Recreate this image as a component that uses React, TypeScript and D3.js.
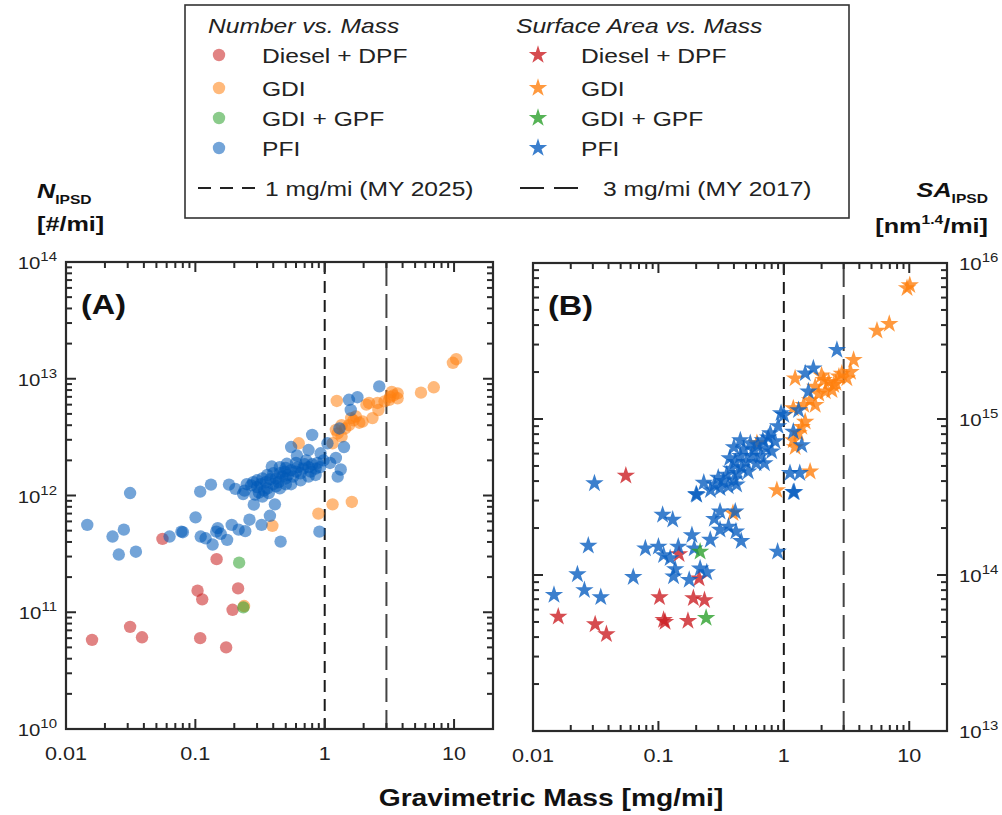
import React from "react";
import * as d3 from "d3";

type Pt = [number, number];

// ---------- Panel A: Number vs. Mass ----------
const dieselNumber: Pt[] = [
  [0.0557, 4.25e11], [0.146, 2.85e11], [0.104, 1.53e11], [0.113, 1.29e11], [0.214, 1.6e11],
  [0.194, 1.05e11], [0.0159, 5.8e10], [0.0313, 7.5e10], [0.0387, 6.1e10], [0.109, 6.0e10], [0.173, 5.0e10],
];
const gdiNumber: Pt[] = [
  [0.238, 1.13e11], [0.394, 5.5e11], [0.893, 7.0e11], [1.15, 8.4e11], [1.62, 8.8e11],
  [0.63, 2.8e12], [1.15, 2.8e12], [1.22, 3.65e12], [1.26, 3.4e12], [1.44, 3.75e12], [1.54, 4.0e12],
  [1.67, 4.4e12], [1.74, 4.75e12], [1.96, 4.3e12], [2.34, 4.6e12], [2.6, 5.4e12], [1.24, 6.45e12],
  [2.2, 6.2e12], [2.56, 6.2e12], [3.15, 6.6e12], [3.3, 7.7e12], [3.66, 7.5e12], [3.66, 6.8e12],
  [3.2, 7.0e12], [2.9, 6.4e12], [5.55, 7.6e12], [6.97, 8.45e12], [9.8, 1.37e13], [10.4, 1.47e13],
  [1.85, 4.2e12], [1.6, 4.6e12], [2.1, 6.0e12], [1.35, 3.2e12], [1.35, 4.0e12], [3.4, 7.2e12],
];
const gpfNumber: Pt[] = [[0.218, 2.66e11], [0.235, 1.1e11]];
const pfiNumber: Pt[] = [
  [0.0313, 1.05e12], [0.0146, 5.6e11], [0.0229, 4.45e11], [0.028, 5.1e11], [0.0256, 3.12e11],
  [0.0347, 3.3e11], [0.0632, 4.45e11], [0.08, 4.85e11], [0.078, 4.9e11], [0.1004, 6.5e11],
  [0.109, 1.08e12], [0.132, 1.24e12], [0.182, 1.24e12], [0.204, 1.14e12], [0.234, 1.03e12],
  [0.11, 4.45e11], [0.12, 4.3e11], [0.136, 3.8e11], [0.149, 5.25e11], [0.157, 4.7e11], [0.145, 4.9e11],
  [0.176, 4.17e11], [0.191, 5.6e11], [0.216, 5.1e11], [0.243, 4.95e11], [0.262, 6.2e11], [0.283, 8.35e11],
  [0.325, 5.6e11], [0.377, 6.7e11], [0.412, 8.4e11], [0.456, 4.03e11], [0.91, 4.9e11],
  [0.27, 1.22e12], [0.28, 1.3e12], [0.3, 1.18e12], [0.3, 1.35e12], [0.32, 1.25e12], [0.33, 1.4e12],
  [0.35, 1.3e12], [0.36, 1.15e12], [0.36, 1.5e12], [0.38, 1.38e12], [0.4, 1.25e12], [0.4, 1.55e12],
  [0.42, 1.4e12], [0.44, 1.3e12], [0.45, 1.55e12], [0.47, 1.45e12], [0.49, 1.6e12], [0.5, 1.4e12],
  [0.52, 1.5e12], [0.55, 1.65e12], [0.57, 1.45e12], [0.6, 1.6e12], [0.62, 1.75e12], [0.65, 1.55e12],
  [0.68, 1.7e12], [0.7, 1.85e12], [0.75, 1.75e12], [0.78, 1.6e12], [0.8, 1.85e12], [0.85, 1.7e12],
  [0.88, 1.9e12], [0.92, 1.75e12], [0.34, 1.1e12], [0.39, 1.77e12], [0.51, 1.87e12], [0.29, 1.02e12],
  [0.33, 0.98e12], [0.37, 1.05e12], [0.25, 1.25e12], [0.24, 1.1e12],
  [0.31, 1.06e12], [0.45, 1.15e12], [0.55, 1.25e12], [0.65, 1.35e12], [0.75, 1.45e12], [0.85, 1.5e12],
  [0.45, 1.75e12], [0.5, 1.72e12], [0.6, 1.9e12], [0.72, 2.0e12], [0.42, 1.2e12], [0.5, 1.25e12],
  [0.55, 2.6e12], [0.61, 2.2e12], [0.75, 2.45e12], [0.93, 2.3e12], [1.05, 2.8e12], [1.22, 2.1e12],
  [1.41, 2.6e12], [1.33, 1.67e12], [1.26, 1.45e12], [0.8, 3.3e12], [1.3, 3.75e12], [1.59, 5.4e12],
  [1.54, 6.6e12], [1.79, 6.95e12], [2.64, 8.6e12], [1.1, 1.9e12], [0.98, 2.0e12],
];

// ---------- Panel B: Surface Area vs. Mass ----------
const dieselSA: Pt[] = [
  [0.0159, 5.4e13], [0.0313, 4.83e13], [0.0385, 4.17e13], [0.102, 7.2e13], [0.11, 5.15e13],
  [0.113, 5.0e13], [0.172, 5.08e13], [0.19, 7.1e13], [0.233, 6.9e13], [0.211, 9.5e13],
  [0.146, 1.36e14], [0.055, 4.33e14],
];
const gdiSA: Pt[] = [
  [0.393, 2.49e14], [0.88, 3.5e14], [1.62, 4.6e14], [0.61, 7.0e14], [1.23, 6.6e14], [1.19, 7.3e14],
  [1.31, 8.1e14], [1.39, 8.9e14], [1.48, 9.6e14], [1.19, 1.17e15], [1.44, 1.23e15], [1.78, 1.23e15],
  [1.62, 1.32e15], [2.14, 1.5e15], [2.42, 1.53e15], [1.78, 1.61e15], [2.5, 1.65e15], [2.28, 1.73e15],
  [2.08, 1.78e15], [2.75, 1.87e15], [3.18, 1.82e15], [1.23, 1.82e15], [3.4, 2.0e15], [3.6, 2.39e15],
  [2.9, 1.95e15], [2.0, 1.9e15], [5.53, 3.68e15], [6.93, 4.07e15], [9.6, 6.9e15], [10.1, 7.2e15],
  [1.9, 1.45e15], [2.6, 1.7e15],
];
const gpfSA: Pt[] = [[0.215, 1.41e14], [0.24, 5.3e13]];
const pfiSA: Pt[] = [
  [0.0147, 7.45e13], [0.0226, 1.01e14], [0.0257, 8.0e13], [0.0347, 7.2e13], [0.0276, 1.54e14],
  [0.063, 9.7e13], [0.0787, 1.48e14], [0.1, 1.52e14], [0.108, 2.43e14], [0.13, 2.26e14],
  [0.11, 1.34e14], [0.124, 1.28e14], [0.144, 1.52e14], [0.136, 1.09e14], [0.132, 9.8e13],
  [0.176, 9.3e13], [0.185, 1.8e14], [0.193, 1.48e14], [0.215, 1.1e14], [0.243, 1.04e14],
  [0.202, 3.26e14], [0.259, 1.68e14], [0.279, 2.29e14], [0.31, 2.55e14], [0.31, 1.95e14],
  [0.362, 2.04e14], [0.41, 2.55e14], [0.415, 1.9e14], [0.457, 1.65e14], [0.892, 1.41e14],
  [1.21, 3.39e14], [0.0309, 3.87e14],
  [2.65, 2.77e15], [1.72, 2.11e15], [1.48, 1.96e15], [1.57, 1.5e15], [1.0, 1.06e15], [1.31, 1.14e15],
  [1.19, 8.3e14], [1.39, 6.8e14], [1.12, 4.5e14], [1.34, 4.5e14], [1.19, 3.4e14],
  [0.2, 3.3e14], [0.23, 3.9e14], [0.26, 3.5e14], [0.28, 3.8e14], [0.3, 4.2e14], [0.31, 3.6e14],
  [0.33, 4.0e14], [0.35, 4.4e14], [0.36, 3.7e14], [0.38, 4.8e14], [0.4, 4.1e14], [0.41, 5.3e14],
  [0.43, 4.5e14], [0.45, 5.8e14], [0.46, 4.9e14], [0.48, 6.4e14], [0.5, 5.3e14], [0.52, 4.6e14],
  [0.54, 7.0e14], [0.55, 5.8e14], [0.58, 6.3e14], [0.6, 5.2e14], [0.62, 6.8e14], [0.65, 5.8e14],
  [0.68, 7.3e14], [0.72, 6.5e14], [0.75, 7.6e14], [0.78, 8.1e14], [0.8, 6.2e14], [0.85, 7.2e14],
  [0.9, 9.0e14], [0.95, 1.09e15], [0.45, 7.3e14], [0.4, 6.6e14], [0.37, 5.6e14], [0.7, 5.2e14],
  [0.42, 3.8e14],
];

const xDomain: [number, number] = [0.01, 20];
const xTickLabels = ["0.01", "0.1", "1", "10"];
const nDomain: [number, number] = [1e10, 1e14];
const saDomain: [number, number] = [1e13, 1e16];
const limitLines = [1, 3];

const COLORS = { diesel: "#c81e1e", gdi: "#ff7f0e", gpf: "#2ca02c", pfi: "#0059b8" };
const STAR_COLORS = { diesel: "#cc1f24", gdi: "#ff7f0e", gpf: "#2ca02c", pfi: "#0a5fc0" };

const FONT = "'Liberation Sans', Arial, Helvetica, sans-serif";
const SX = 1.2;
const R = 6.2;

function T(props: any) {
  const { x, y, anchor = "start", size, weight = "normal", italic = false, fill = "#222", children } = props;
  return (
    <text
      transform={`translate(${x},${y}) scale(${SX},1)`}
      textAnchor={anchor}
      fontSize={size}
      fontWeight={weight}
      fontStyle={italic ? "italic" : "normal"}
      fontFamily={FONT}
      fill={fill}
    >
      {children}
    </text>
  );
}

function logTicks(domain: [number, number]) {
  const out: { v: number; major: boolean }[] = [];
  const k0 = Math.floor(Math.log10(domain[0]));
  const k1 = Math.ceil(Math.log10(domain[1]));
  for (let k = k0; k <= k1; k++) {
    for (let m = 1; m <= 9; m++) {
      const v = m * Math.pow(10, k);
      if (v >= domain[0] * 0.999 && v <= domain[1] * 1.001) out.push({ v, major: m === 1 });
    }
  }
  return out;
}

const starPath = d3.symbol().type(d3.symbolStar).size(105)() as string;

function Panel(props: any) {
  const { left, right, top, bottom, yDomain, label, labelSide, marker, series } = props;
  const x = d3.scaleLog().domain(xDomain).range([left, right]);
  const y = d3.scaleLog().domain(yDomain).range([bottom, top]);
  const xt = logTicks(xDomain);
  const yt = logTicks(yDomain);
  const axisColor = "#2a2a2a";
  const MAJ = 10, MIN = 6;
  return (
    <g>
      {limitLines.map((v, i) => (
        <line
          key={"lim" + i}
          x1={x(v)} x2={x(v)} y1={top} y2={bottom}
          stroke={i === 0 ? "#1a1a1a" : "#444"}
          strokeWidth={2}
          strokeDasharray={i === 0 ? "12,7" : "24,8"}
        />
      ))}
      {series.map((s: any, si: number) =>
        s.data.map((d: Pt, i: number) =>
          marker === "circle" ? (
            <circle key={si + "-" + i} cx={x(d[0])} cy={y(d[1])} r={R} fill={s.color} fillOpacity={0.55} />
          ) : (
            <path key={si + "-" + i} d={starPath} transform={`translate(${x(d[0])},${y(d[1])})`} fill={s.color} fillOpacity={0.8} />
          )
        )
      )}
      <rect x={left} y={top} width={right - left} height={bottom - top} fill="none" stroke={axisColor} strokeWidth={2.2} />
      {xt.map((t, i) => {
        const px = x(t.v);
        const L = t.major ? MAJ : MIN;
        return (
          <g key={"xt" + i}>
            <line x1={px} x2={px} y1={bottom} y2={bottom - L} stroke={axisColor} strokeWidth={2} />
            <line x1={px} x2={px} y1={top} y2={top + L} stroke={axisColor} strokeWidth={2} />
          </g>
        );
      })}
      {yt.map((t, i) => {
        const py = y(t.v);
        const L = t.major ? MAJ : MIN;
        return (
          <g key={"yt" + i}>
            <line x1={left} x2={left + L} y1={py} y2={py} stroke={axisColor} strokeWidth={2} />
            <line x1={right} x2={right - L} y1={py} y2={py} stroke={axisColor} strokeWidth={2} />
          </g>
        );
      })}
      {xTickLabels.map((s) => (
        <T key={"xl" + s} x={x(+s)} y={bottom + 31} anchor="middle" size={18}>{s}</T>
      ))}
      {yt.filter((t) => t.major).map((t, i) => {
        const py = y(t.v);
        const e = Math.round(Math.log10(t.v));
        return labelSide === "left" ? (
          <T key={"yl" + i} x={left - 9} y={py + 7} anchor="end" size={17}>
            10<tspan fontSize={12.5} dy={-8}>{e}</tspan>
          </T>
        ) : (
          <T key={"yl" + i} x={right + 12} y={py + 7} anchor="start" size={17}>
            10<tspan fontSize={12.5} dy={-8}>{e}</tspan>
          </T>
        );
      })}
      <T x={left + 15} y={top + 52} size={27} weight="bold" fill="#111">{label}</T>
    </g>
  );
}

function Legend() {
  const rowsY = [55, 88, 118, 148];
  const names = ["Diesel + DPF", "GDI", "GDI + GPF", "PFI"];
  const cols = [COLORS.diesel, COLORS.gdi, COLORS.gpf, COLORS.pfi];
  const scols = [STAR_COLORS.diesel, STAR_COLORS.gdi, STAR_COLORS.gpf, STAR_COLORS.pfi];
  return (
    <g>
      <rect x={185} y={5} width={664} height={213} fill="#fff" stroke="#333" strokeWidth={1.6} />
      <T x={208} y={33} size={20.5} italic>Number vs. Mass</T>
      <T x={516} y={33} size={20.5} italic>Surface Area vs. Mass</T>
      {names.map((n, i) => (
        <g key={n}>
          <circle cx={219} cy={rowsY[i]} r={R} fill={cols[i]} fillOpacity={0.55} />
          <T x={262} y={rowsY[i] + 8} size={20.5}>{n}</T>
          <path d={starPath} transform={`translate(${538},${rowsY[i]})`} fill={scols[i]} fillOpacity={0.8} />
          <T x={581} y={rowsY[i] + 8} size={20.5}>{n}</T>
        </g>
      ))}
      <line x1={198} x2={255} y1={188} y2={188} stroke="#222" strokeWidth={2} strokeDasharray="13,9" />
      <T x={265} y={196} size={20.5}>1 mg/mi (MY 2025)</T>
      <line x1={520} x2={578} y1={188} y2={188} stroke="#222" strokeWidth={2} strokeDasharray="24,10" />
      <T x={603} y={196} size={20.5}>3 mg/mi (MY 2017)</T>
    </g>
  );
}

export default function App() {
  const seriesA = [
    { data: dieselNumber, color: COLORS.diesel },
    { data: gdiNumber, color: COLORS.gdi },
    { data: pfiNumber, color: COLORS.pfi },
    { data: gpfNumber, color: COLORS.gpf },
  ];
  const seriesB = [
    { data: dieselSA, color: STAR_COLORS.diesel },
    { data: gdiSA, color: STAR_COLORS.gdi },
    { data: pfiSA, color: STAR_COLORS.pfi },
    { data: gpfSA, color: STAR_COLORS.gpf },
  ];
  return (
    <div style={{ position: "absolute", left: 0, top: 0 }}>
      <svg width={1002} height={815} style={{ display: "block", background: "#fff" }}>
        <Legend />
        <T x={37} y={198} size={21} weight="bold" italic fill="#111">
          N<tspan fontStyle="normal" fontSize={13} dy={6}>IPSD</tspan>
        </T>
        <T x={37} y={231} size={21} weight="bold" fill="#111">[#/mi]</T>
        <T x={988} y={197} size={21} weight="bold" italic anchor="end" fill="#111">
          SA<tspan fontStyle="normal" fontSize={13} dy={6}>IPSD</tspan>
        </T>
        <T x={988} y={233} size={21} weight="bold" anchor="end" fill="#111">
          [nm<tspan fontSize={13} dy={-9}>1.4</tspan><tspan dy={9}>/mi]</tspan>
        </T>
        <Panel left={66} right={493} top={262} bottom={729} yDomain={nDomain} label="(A)" labelSide="left" marker="circle" series={seriesA} />
        <Panel left={533} right={947} top={263} bottom={731} yDomain={saDomain} label="(B)" labelSide="right" marker="star" series={seriesB} />
        <T x={551} y={806} size={23.5} weight="bold" anchor="middle" fill="#111">Gravimetric Mass [mg/mi]</T>
      </svg>
    </div>
  );
}
